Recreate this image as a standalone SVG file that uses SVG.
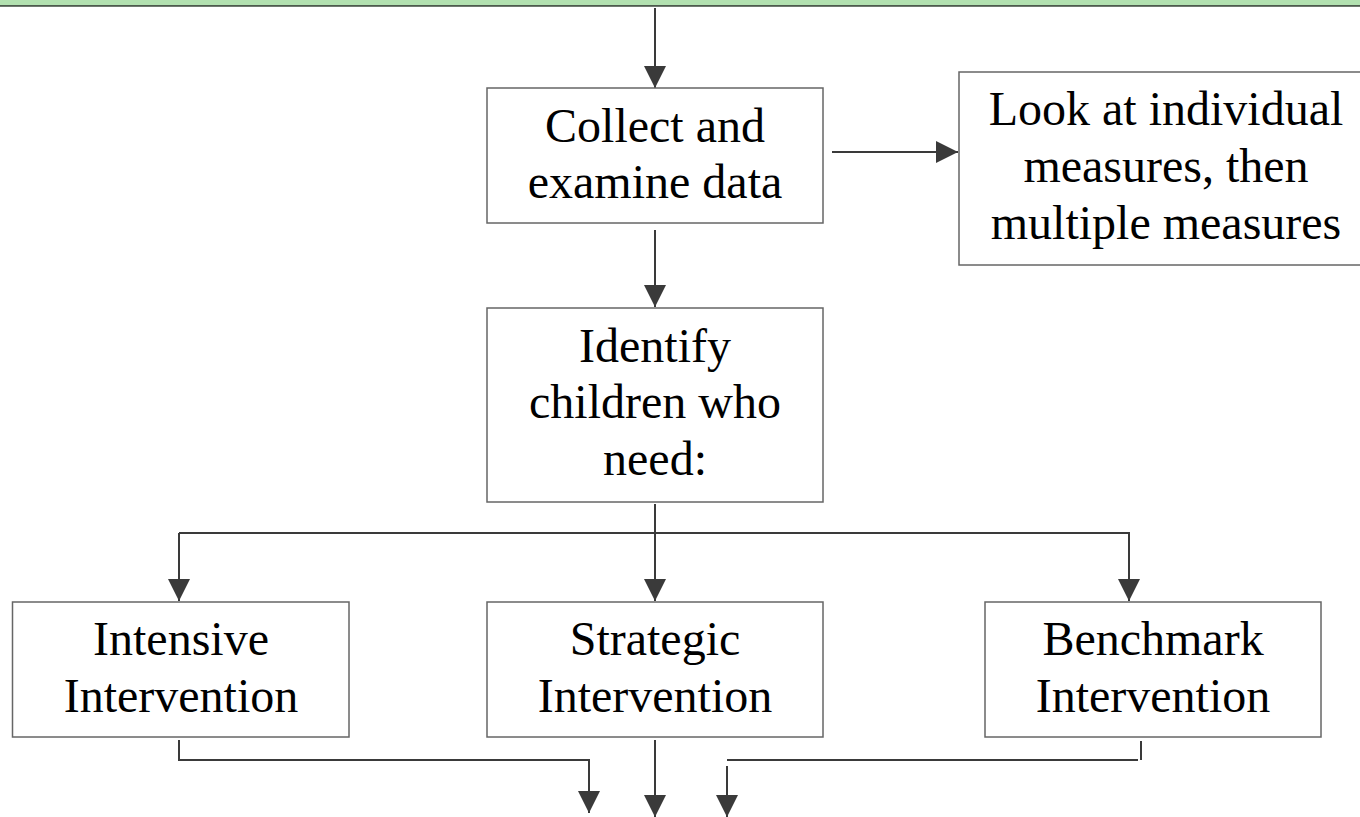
<svg xmlns="http://www.w3.org/2000/svg" width="1360" height="817" viewBox="0 0 1360 817">
  <style>
    .box { fill: #ffffff; stroke: #666666; stroke-width: 1.5; }
    .lbl { font-family: "Liberation Serif", "Times New Roman", serif; font-size: 48px; fill: #000000; text-anchor: middle; }
    .conn { fill: none; stroke: #3a3a3a; stroke-width: 2; }
    .arrow { stroke: #3a3a3a; stroke-width: 2; fill: none; marker-end: url(#ah); }
  </style>
  <defs>
    <marker id="ah" markerUnits="userSpaceOnUse" markerWidth="22" markerHeight="22" viewBox="0 0 20 20" refX="20" refY="10" orient="auto">
      <path d="M0,0 L20,10 L0,20 Z" fill="#3a3a3a"/>
    </marker>
  </defs>
  <rect x="0" y="0" width="1360" height="817" fill="#ffffff"/>
  <g id="topbar">
    <rect x="0" y="0" width="1360" height="5" fill="#b2e1b0"/>
    <rect x="0" y="5" width="1360" height="1.8" fill="#4d5a4d"/>
  </g>

  <g id="connectors">
    <line class="arrow" x1="655" y1="8" x2="655" y2="88"/>
    <line class="arrow" x1="832" y1="152" x2="958" y2="152"/>
    <line class="arrow" x1="655" y1="230" x2="655" y2="307"/>
    <line class="arrow" x1="655" y1="504" x2="655" y2="601"/>
    <polyline class="arrow" points="179,533 1129,533 1129,601"/>
    <line class="arrow" x1="179" y1="533" x2="179" y2="601"/>
    <polyline class="arrow" points="179,740 179,760 589,760 589,813"/>
    <line class="arrow" x1="655" y1="740" x2="655" y2="817"/>
    <line class="conn" x1="1141" y1="741" x2="1141" y2="760"/>
    <line class="conn" x1="1138" y1="760" x2="727" y2="760"/>
    <line class="arrow" x1="727" y1="766" x2="727" y2="817"/>
  </g>

  <g id="collect">
    <rect class="box" x="487" y="88" width="336" height="135"/>
    <text class="lbl" x="655" y="142">Collect and</text>
    <text class="lbl" x="655" y="198">examine data</text>
  </g>

  <g id="look">
    <rect class="box" x="959" y="72" width="414" height="193"/>
    <text class="lbl" x="1166" y="125">Look at individual</text>
    <text class="lbl" x="1166" y="182">measures, then</text>
    <text class="lbl" x="1166" y="239">multiple measures</text>
  </g>

  <g id="identify">
    <rect class="box" x="487" y="308" width="336" height="194"/>
    <text class="lbl" x="655" y="362">Identify</text>
    <text class="lbl" x="655" y="418">children who</text>
    <text class="lbl" x="655" y="475">need:</text>
  </g>

  <g id="intensive">
    <rect class="box" x="12.5" y="602" width="336.5" height="135"/>
    <text class="lbl" x="181" y="655">Intensive</text>
    <text class="lbl" x="181" y="712">Intervention</text>
  </g>

  <g id="strategic">
    <rect class="box" x="487" y="602" width="336" height="135"/>
    <text class="lbl" x="655" y="655">Strategic</text>
    <text class="lbl" x="655" y="712">Intervention</text>
  </g>

  <g id="benchmark">
    <rect class="box" x="985" y="602" width="336" height="135"/>
    <text class="lbl" x="1153" y="655">Benchmark</text>
    <text class="lbl" x="1153" y="712">Intervention</text>
  </g>
</svg>
